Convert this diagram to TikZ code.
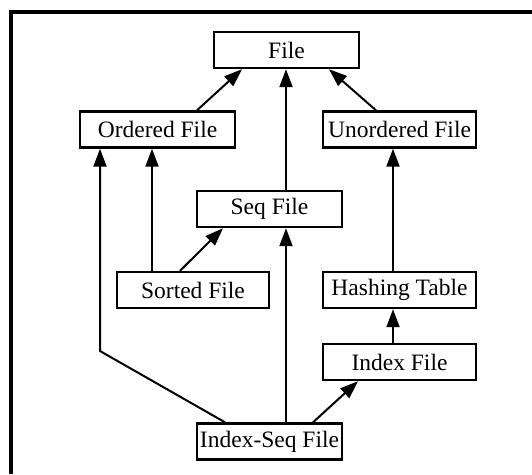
\documentclass[tikz,border=0pt]{standalone}
\usepackage{fontspec}
\setmainfont{Liberation Serif}
\usetikzlibrary{arrows.meta}
\begin{document}
\begin{tikzpicture}[x=1pt,y=-1pt,
  box/.style={draw,line width=2.4pt,fill=white,inner sep=0pt,
    minimum width=#1,minimum height=36pt,
    font=\fontsize{23.5}{25}\selectfont},
  box/.default=145pt,
  link/.style={line width=2pt,-{Triangle[length=18pt,width=13pt]}},
  frame/.style={line width=4.5pt}]
\useasboundingbox (0,0) rectangle (532,474);
% outer frame (top and left edges)
\draw[frame] (11,474) -- (11,12) -- (540,12);

% class nodes
\node[box=145pt] (file)  at (286.5,50)  {File};
\node[box=155pt] (ord)   at (157.5,129.5) {Ordered File};
\node[box=153pt] (unord) at (399.5,129.5) {Unordered File};
\node[box=145pt] (seq)   at (269.5,209) {Seq File};
\node[box=152pt] (sort)  at (193,290)   {Sorted File};
\node[box=153pt] (hash)  at (399.5,290) {Hashing Table};
\node[box=153pt] (idx)   at (399.5,362) {Index File};
\node[box=145pt] (iseq)  at (269.5,441.5) {Index-Seq File};

\coordinate (bend) at (100,351);

% inheritance links
\draw[link] ([xshift=39.5pt]ord.north) -- ([xshift=-44.5pt]file.south);
\draw[link] ([xshift=-23.5pt]unord.north) -- ([xshift=42.5pt]file.south);
\draw[link] ([xshift=16.5pt]seq.north) -- ([xshift=-0.5pt]file.south);
\draw[link] ([xshift=-41pt]sort.north) -- ([xshift=-5.5pt]ord.south);
\draw[link] ([xshift=-44.5pt]iseq.north) -- (bend) -- (bend |- ord.south);
\draw[link] ([xshift=-13pt]sort.north) -- ([xshift=-46.5pt]seq.south);
\draw[link] ([xshift=16.5pt]iseq.north) -- ([xshift=16.5pt]seq.south);
\draw[link] ([xshift=43.5pt]iseq.north) -- ([xshift=-41.5pt]idx.south);
\draw[link] ([xshift=-6.5pt]idx.north) -- ([xshift=-6.5pt]hash.south);
\draw[link] ([xshift=-6.5pt]hash.north) -- ([xshift=-6.5pt]unord.south);
\end{tikzpicture}
\end{document}
